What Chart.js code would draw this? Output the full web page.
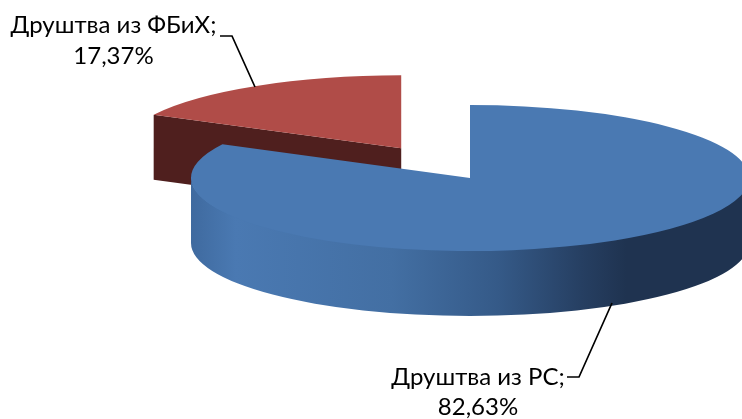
<!DOCTYPE html>
<html><head><meta charset="utf-8">
<style>html,body{margin:0;padding:0;background:#fff;overflow:hidden}canvas{display:block}</style>
<script src="https://cdn.jsdelivr.net/npm/chart.js@4"></script>
</head><body>
<canvas id="c" width="742" height="419"></canvas>
<script>
const categories = ['Друштва из РС', 'Друштва из ФБиХ'];
const values = [82.63, 17.37];
const valueLabels = ['82,63%', '17,37%'];
const topColors = ['#4a79b2', '#b04c48'];
const explode = [0, 0.475];

const CX = 470, CY = 178, RX = 279, RY = 73, DEPTH = 65;
const FONT = '24px Lato, "Open Sans", sans-serif';

const labelSpots = [
  {x: 478, y1: 385, y2: 415, line: [[567, 377], [579, 377], [612, 303]]},
  {x: 113.5, y1: 33, y2: 64, line: [[220, 36], [232, 36], [255, 87]]}
];

const pie3d = {
  id: 'pie3d',
  beforeDatasetsDraw(chart) {
    const ctx = chart.ctx;
    const arcs = chart.getDatasetMeta(0).data;
    for (let i = arcs.length - 1; i >= 0; i--) {
      const a = arcs[i];
      const mid = (a.startAngle + a.endAngle) / 2;
      const sx = RX / a.outerRadius, sy = RY / a.outerRadius;
      const cx = CX + RX * explode[i] * Math.cos(mid);
      const cy = CY + RY * explode[i] * Math.sin(mid);

      // cut face at the start edge of the slice
      const ex = cx + RX * Math.cos(a.startAngle);
      const ey = cy + RY * Math.sin(a.startAngle);
      ctx.save();
      ctx.fillStyle = i === 1 ? '#4f1f1e' : '#1f3350';
      ctx.beginPath();
      ctx.moveTo(cx, cy);
      ctx.lineTo(ex, ey);
      ctx.lineTo(ex, ey + DEPTH);
      ctx.lineTo(cx, cy + DEPTH);
      ctx.closePath();
      ctx.fill();

      // outer wall on the near half of the rim
      const from = Math.max(a.startAngle, 0), to = Math.min(a.endAngle, Math.PI);
      if (to > from) {
        const g = ctx.createLinearGradient(cx - RX, 0, cx + RX, 0);
        g.addColorStop(0, '#3f6a9f');
        g.addColorStop(0.08, '#4a79b2');
        g.addColorStop(0.36, '#436fa3');
        g.addColorStop(0.55, '#355a88');
        g.addColorStop(0.70, '#263f62');
        g.addColorStop(0.78, '#1f3350');
        g.addColorStop(1, '#1f3350');
        ctx.fillStyle = g;
        ctx.beginPath();
        ctx.ellipse(cx, cy - 1, RX, RY, 0, from, to);
        ctx.ellipse(cx, cy + DEPTH, RX, RY, 0, to, from, true);
        ctx.closePath();
        ctx.fill();
      }
      ctx.restore();

      // top face, squashed, drawn by the library's own arc element
      ctx.save();
      ctx.translate(cx, cy);
      ctx.scale(sx, sy);
      ctx.translate(-a.x, -a.y);
      a.draw(ctx);
      ctx.restore();
    }
    return false;
  },
  afterDraw(chart) {
    const ctx = chart.ctx;
    ctx.save();
    ctx.fillStyle = '#000';
    ctx.strokeStyle = '#000';
    ctx.lineWidth = 1.7;
    ctx.font = FONT;
    ctx.textAlign = 'center';
    ctx.textBaseline = 'alphabetic';
    categories.forEach((c, i) => {
      const s = labelSpots[i];
      ctx.fillText(c + ';', s.x, s.y1);
      ctx.fillText(valueLabels[i], s.x, s.y2);
      ctx.beginPath();
      s.line.forEach((p, k) => k ? ctx.lineTo(p[0], p[1]) : ctx.moveTo(p[0], p[1]));
      ctx.stroke();
    });
    ctx.restore();
  }
};

new Chart(document.getElementById('c'), {
  type: 'pie',
  data: {
    labels: categories,
    datasets: [{data: values, backgroundColor: topColors, borderWidth: 0}]
  },
  options: {
    responsive: false,
    animation: false,
    plugins: {legend: {display: false}, tooltip: {enabled: false}}
  },
  plugins: [pie3d]
});
</script>
</body></html>
